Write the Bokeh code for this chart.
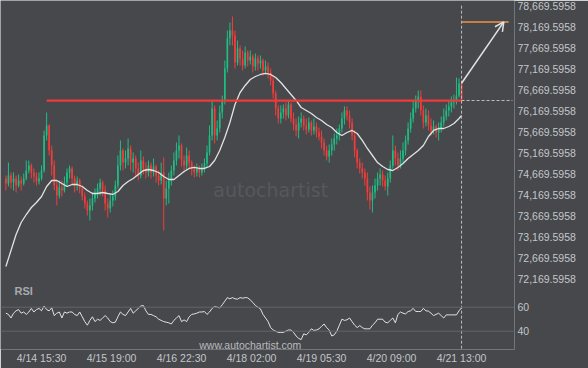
from bokeh.plotting import figure
from bokeh.models import (Range1d, FixedTicker, NumeralTickFormatter, Span, Label,
                          Arrow, OpenHead, ColumnDataSource)
from bokeh.embed import file_html
from bokeh.resources import INLINE

# ---------------- data (hourly candles) ----------------
open0 = 74552
close = [
    74432, 74623, 74456, 74552, 74385, 74504, 74432, 74552, 74742, 74861,
    74694, 74599, 74480, 74552, 74742, 75576, 75814, 75218, 74861, 74385,
    74147, 74337, 74266, 74456, 74694, 74790, 74552, 74385, 74504, 74313,
    74123, 73956, 73789, 73909, 74075, 74194, 74313, 74456, 74266, 73956,
    73837, 74028, 74123, 74385, 74861, 75218, 74932, 75028, 75266, 74932,
    75028, 74790, 74623, 74980, 74790, 74694, 74861, 74694, 74837, 74623,
    74504, 74694, 74075, 74313, 74504, 74742, 74980, 75218, 75337, 74980,
    74861, 75099, 74932, 74790, 74694, 74790, 74694, 74790, 74909, 75171,
    75576, 76218, 75576, 75742, 76123, 76409, 77171, 77885, 78075, 77956,
    77313, 77647, 77409, 77242, 77551, 77361, 77456, 77218, 77409, 77290,
    77361, 77123, 77218, 77075, 76885, 76575, 76218, 75980, 76123, 76218,
    76052, 76313, 75980, 75837, 75695, 75885, 75980, 75814, 75719, 75885,
    75695, 75790, 75647, 75552, 75409, 75218, 75075, 75218, 75361, 75504,
    75576, 75742, 75980, 76171, 76052, 75885, 75576, 75218, 74932, 74790,
    74694, 74552, 74218, 74028, 74218, 74385, 74552, 74647, 74504, 74361,
    74552, 74861, 75218, 75028, 74861, 75028, 75218, 75457, 75742, 75980,
    76218, 76409, 76504, 76171, 75885, 76052, 75814, 75695, 75790, 75647,
    75742, 75885, 76028, 76171, 76266, 76361, 76409, 76528, 76813, 76409,
]
high = [
    74623, 74932, 74694, 74694, 74623, 74647, 74599, 74671, 74980, 74980,
    74909, 74790, 74694, 74694, 74861, 75695, 76123, 75838, 75337, 74980,
    74504, 74504, 74504, 74599, 74790, 74861, 74837, 74623, 74599, 74552,
    74385, 74218, 74028, 74075, 74218, 74313, 74432, 74552, 74504, 74385,
    74075, 74171, 74266, 74504, 75099, 75457, 75266, 75218, 75504, 75337,
    75171, 75099, 74932, 75218, 75075, 74932, 74980, 74932, 75028, 74885,
    74742, 74932, 75052, 74504, 74694, 74861, 75171, 75409, 75576, 75385,
    75099, 75290, 75218, 74980, 74861, 74909, 74861, 74909, 75028, 75337,
    75814, 76409, 76290, 75933, 76290, 76528, 77361, 78075, 78266, 78409,
    78075, 77837, 77718, 77599, 77694, 77599, 77599, 77504, 77528, 77480,
    77480, 77409, 77361, 77313, 77171, 77004, 76647, 76290, 76290, 76313,
    76361, 76409, 76361, 76123, 75980, 76028, 76123, 76052, 75980, 76004,
    75933, 75980, 75885, 75766, 75695, 75504, 75337, 75361, 75504, 75623,
    75742, 75837, 76123, 76266, 76266, 76171, 75980, 75695, 75266, 75028,
    74932, 74790, 74694, 74361, 74385, 74552, 74694, 74790, 74742, 74623,
    74694, 74980, 75576, 75337, 75171, 75218, 75409, 75576, 75885, 76123,
    76409, 76528, 76647, 76647, 76290, 76218, 76171, 75980, 75933, 75837,
    75885, 76028, 76218, 76313, 76409, 76504, 76551, 76956, 76933, 76837,
]
low = [
    74266, 74361, 74313, 74266, 74218, 74337, 74266, 74385, 74504, 74671,
    74552, 74456, 74385, 74409, 74504, 74694, 75457, 75099, 74623, 74266,
    73909, 74075, 74123, 74218, 74361, 74552, 74409, 74218, 74266, 74194,
    74028, 73837, 73670, 73551, 73789, 73980, 74075, 74147, 74123, 73789,
    73623, 73742, 73885, 74028, 74313, 74742, 74742, 74790, 74861, 74742,
    74694, 74623, 74504, 74552, 74647, 74552, 74599, 74552, 74599, 74456,
    74385, 74409, 73313, 73909, 73956, 74385, 74623, 74861, 75028, 74837,
    74694, 74742, 74790, 74623, 74575, 74599, 74575, 74623, 74694, 74814,
    75099, 75457, 75385, 75457, 75647, 75980, 76313, 77075, 77718, 77718,
    77171, 77242, 77242, 77123, 77171, 77218, 77266, 77075, 77123, 77123,
    77171, 77004, 77028, 76933, 76766, 76456, 76052, 75861, 75861, 75980,
    75933, 75980, 75885, 75695, 75552, 75504, 75766, 75695, 75600, 75647,
    75576, 75600, 75528, 75457, 75266, 75099, 74980, 74932, 75099, 75218,
    75361, 75457, 75647, 75837, 75933, 75742, 75457, 75052, 74790, 74671,
    74552, 74385, 74028, 73813, 73742, 74075, 74266, 74385, 74361, 74266,
    74147, 74456, 74790, 74861, 74742, 74790, 74932, 75099, 75361, 75647,
    75885, 76123, 76218, 76052, 75742, 75790, 75695, 75576, 75600, 75528,
    75457, 75647, 75790, 75933, 76028, 76123, 76218, 76313, 76480, 76361,
]
rsi = [
    55, 54, 51, 55, 57, 58, 55, 56, 54, 56,
    59, 56, 58, 59, 57, 61, 58, 57, 59.5, 53,
    55, 56, 51, 56, 55, 56, 56, 54, 53, 56,
    52, 48, 45, 49, 52, 48, 50, 49, 51, 53,
    51, 48, 47, 47.5, 52, 56, 54, 53, 56, 59,
    55, 57, 59, 61, 61.4, 57, 54, 54, 53, 52,
    50, 49, 48, 47.5, 47, 46, 49, 51, 53, 48,
    49.4, 48, 52, 54, 54.4, 55, 56, 56, 56.4, 54,
    56, 59, 60.6, 60, 59.4, 62, 65, 68, 67, 68,
    67, 66.7, 68, 67.5, 68, 67.8, 66, 64, 61.4, 60,
    58.6, 54, 51, 48, 43, 41, 40, 39, 39, 39,
    40, 41, 41, 39, 36, 34, 33, 37.8, 37, 39,
    42, 40.6, 41, 42, 44, 46, 43, 41, 36, 37,
    40, 45, 50, 49, 49.5, 51, 48, 45, 43, 44.7,
    43, 42, 42, 42, 45, 47, 50, 50, 50, 47.5,
    47, 49, 51, 47, 54, 56, 55, 54.4, 56.4, 57,
    59, 56.4, 56.4, 56.4, 59, 57, 56.7, 55, 53, 54,
    55, 53, 51, 53.6, 53.6, 53.6, 53.6, 53.6, 57, 59.4,
]
ma_idx = list(range(0, 180, 2)) + [179]
ma_val = [
    72456, 72837, 73218, 73504, 73694, 73861, 73980, 74123, 74361, 74504,
    74504, 74432, 74361, 74409, 74409, 74361, 74266, 74194, 74194, 74218,
    74194, 74171, 74242, 74385, 74480, 74552, 74647, 74742, 74766, 74742,
    74694, 74599, 74528, 74528, 74623, 74718, 74790, 74814, 74790, 74790,
    74837, 74980, 75218, 75528, 75885, 76313, 76599, 76766, 76909, 76980,
    77028, 77052, 77028, 76956, 76837, 76694, 76551, 76409, 76242, 76171,
    76099, 76004, 75933, 75837, 75766, 75647, 75576, 75647, 75695, 75623,
    75457, 75266, 75099, 74932, 74837, 74766, 74742, 74814, 74909, 75028,
    75123, 75218, 75337, 75552, 75695, 75742, 75742, 75790, 75861, 75980,
    76052,
]
price_ticks = [72169.5958, 72669.5958, 73169.5958, 73669.5958, 74169.5958,
               74669.5958, 75169.5958, 75669.5958, 76169.5958, 76669.5958,
               77169.5958, 77669.5958, 78169.5958, 78669.5958]
rsi_ticks = [40, 60]
time_ticks = [28, 83, 138, 193, 248, 303, 358]          # half-hour slots
time_labels = ["4/14 15:30", "4/15 19:00", "4/16 22:30", "4/18 02:00",
               "4/19 05:30", "4/20 09:00", "4/21 13:00"]
resistance_level = 76408
resistance_start = 16          # candle index
target_level = 78280
arrow_start_price = 76820

# ---------------- styling ----------------
BG = "#46484c"
UP = "#1fbd84"
DN = "#f23d3b"
TXT = "#c4c6c9"
LINE = "#e2e2e2"
DASH = "#bdbdbd"
FONT = "Liberation Sans"

n = len(close)
opens = [open0] + close[:-1]
xs = [2 * i for i in range(n)]
cols = [UP if c >= o else DN for o, c in zip(opens, close)]
src = ColumnDataSource(dict(
    x=xs, top=[max(o, c) for o, c in zip(opens, close)],
    bottom=[min(o, c) for o, c in zip(opens, close)],
    high=high, low=low, color=cols))

P0, P1 = 70479.9, 78789.6       # price range (whole frame)
R0, R1 = 24.75, 315.58          # rsi range (same frame, rsi panel at bottom)
last_x = xs[-1]


def rsi_as_price(r):
    return P0 + (r - R0) * (P1 - P0) / (R1 - R0)


p = figure(width=588, height=368, x_range=Range1d(-4.24, 399.6),
           y_range=Range1d(P0, P1), output_backend="svg", toolbar_location=None,
           y_axis_location="right", min_border_left=0, min_border_right=74,
           min_border_top=0, min_border_bottom=19, background_fill_color=BG,
           border_fill_color=BG, outline_line_color=None)
p.extra_y_ranges = {"rsi": Range1d(R0, R1)}
p.xgrid.visible = False
p.ygrid.visible = False

# right axis: price ticks plus the RSI 60 / 40 ticks of the lower panel
rsi_tick_pos = [rsi_as_price(r) for r in rsi_ticks]
p.yaxis.ticker = FixedTicker(ticks=price_ticks + rsi_tick_pos)
p.yaxis.formatter = NumeralTickFormatter(format="0,0.0000")
p.yaxis.major_label_overrides = {pos: str(r) for pos, r in zip(rsi_tick_pos, rsi_ticks)}
p.xaxis.ticker = FixedTicker(ticks=time_ticks)
p.xaxis.major_label_overrides = {t: l for t, l in zip(time_ticks, time_labels)}
for ax in (p.yaxis[0], p.xaxis[0]):
    ax.axis_line_color = None
    ax.major_tick_line_color = None
    ax.minor_tick_line_color = None
    ax.major_tick_out = 0
    ax.major_tick_in = 0
    ax.major_label_text_color = TXT
    ax.major_label_text_font = FONT
    ax.major_label_text_font_size = "10.5px"
p.yaxis.major_label_standoff = 3
p.xaxis.major_label_standoff = 2

# watermark
p.add_layout(Label(x=163, y=74266, text="autochartist", text_font="DejaVu Sans",
                   text_font_size="19px", text_color="#56585c",
                   text_baseline="alphabetic"))

# candles
p.segment(x0="x", y0="high", x1="x", y1="low", color="color", line_width=1, source=src)
p.vbar(x="x", width=1.3, top="top", bottom="bottom", fill_color="color",
       line_color=None, source=src)

# moving average
p.line([2 * i for i in ma_idx], ma_val, line_color=LINE, line_width=1.3)

# resistance line + extension
p.line([2 * resistance_start, last_x], [resistance_level, resistance_level],
       line_color="#f03a3a", line_width=2.2)
p.line([last_x, 398], [resistance_level, resistance_level], line_color=DASH,
       line_width=1, line_dash="3 2")
# vertical dashed line at last candle
p.line([last_x, last_x], [P0 + 20, price_ticks[-1]], line_color=DASH, line_width=1,
       line_dash="3 2")
# target line and arrow
p.line([last_x, 395], [target_level, target_level], line_color="#f0934a", line_width=1.5)
p.add_layout(Arrow(end=OpenHead(size=9, line_color=LINE, line_width=1.5),
                   x_start=last_x, y_start=arrow_start_price, x_end=391.2,
                   y_end=target_level, line_color=LINE, line_width=1.5))

# ---------------- RSI panel ----------------
for r in rsi_ticks:
    p.add_layout(Span(location=r, dimension="width", y_range_name="rsi",
                      line_color="#62656a", line_width=1))
p.line(xs, rsi, line_color=LINE, line_width=1, y_range_name="rsi")
p.add_layout(Label(x=6.8, y=73.1, y_range_name="rsi", text="RSI", text_font=FONT,
                   text_font_style="bold", text_font_size="11px", text_color="#a8aaaf",
                   text_baseline="middle"))
p.add_layout(Label(x=192, y=28.3, y_range_name="rsi", text="www.autochartist.com",
                   text_font=FONT, text_font_size="10.5px", text_color="#b9bbbe",
                   text_align="center", text_baseline="middle"))

open("out.html", "w").write(file_html(p, INLINE))
